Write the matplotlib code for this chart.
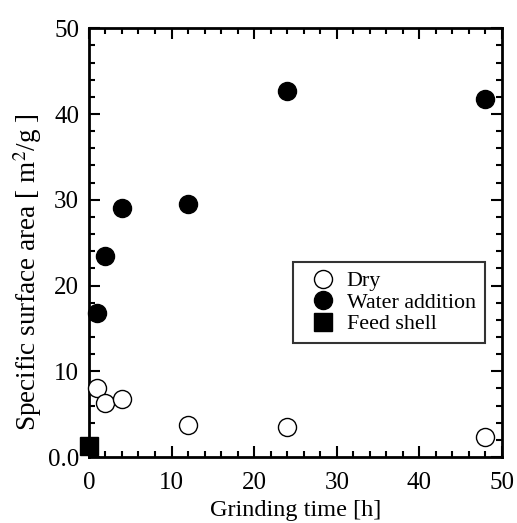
import matplotlib
matplotlib.use('Agg')
from matplotlib import pyplot as plt
from matplotlib.ticker import MultipleLocator, FuncFormatter

# Data
time_h = [1, 2, 4, 12, 24, 48]
dry = [8.0, 6.3, 6.8, 3.8, 3.5, 2.4]
water = [16.8, 23.5, 29.1, 29.5, 42.7, 41.8]
feed_time = [0]
feed_area = [1.3]

plt.rcParams['font.family'] = ['Liberation Serif', 'DejaVu Serif']
plt.rcParams['mathtext.fontset'] = 'stix'

fig = plt.figure(figsize=(5.17, 5.23), dpi=100)
ax = fig.add_axes([0.172, 0.126, 0.799, 0.820])

ax.plot(time_h, dry, 'o', ms=13, mfc='white', mec='black', mew=1.0,
        label='Dry', clip_on=False, zorder=3)
ax.plot(time_h, water, 'o', ms=13, mfc='black', mec='black',
        label='Water addition', clip_on=False, zorder=3)
ax.plot(feed_time, feed_area, 's', ms=12.5, mfc='black', mec='black',
        label='Feed shell', clip_on=False, zorder=3)

ax.set_xlim(0, 50)
ax.set_ylim(0, 50)
ax.xaxis.set_major_locator(MultipleLocator(10))
ax.xaxis.set_minor_locator(MultipleLocator(2))
ax.yaxis.set_major_locator(MultipleLocator(10))
ax.yaxis.set_minor_locator(MultipleLocator(2))
ax.yaxis.set_major_formatter(FuncFormatter(lambda v, p: '0.0' if v == 0 else '%d' % v))

ax.tick_params(which='both', direction='in', top=True, right=True,
               width=1.5, labelsize=18)
ax.tick_params(axis='x', pad=11)
ax.tick_params(axis='y', pad=7)
ax.tick_params(which='major', length=8)
ax.tick_params(which='minor', length=4)
for s in ax.spines.values():
    s.set_linewidth(2)

ax.set_xlabel('Grinding time [h]', fontsize=17.5, labelpad=4)
ax.set_ylabel(r'Specific surface area [ m$^{2}$/g ]', fontsize=19.5)
ax.yaxis.set_label_coords(-0.108, 0.43)

leg = ax.legend(loc='upper left', bbox_to_anchor=(0.494, 0.4545), borderaxespad=0,
                fontsize=15.8, frameon=True, fancybox=False, edgecolor='black',
                handletextpad=0.15, labelspacing=0.05, handlelength=1.9,
                borderpad=0.4)
leg.get_frame().set_linewidth(1.5)

fig.savefig('out.png', dpi=100)
